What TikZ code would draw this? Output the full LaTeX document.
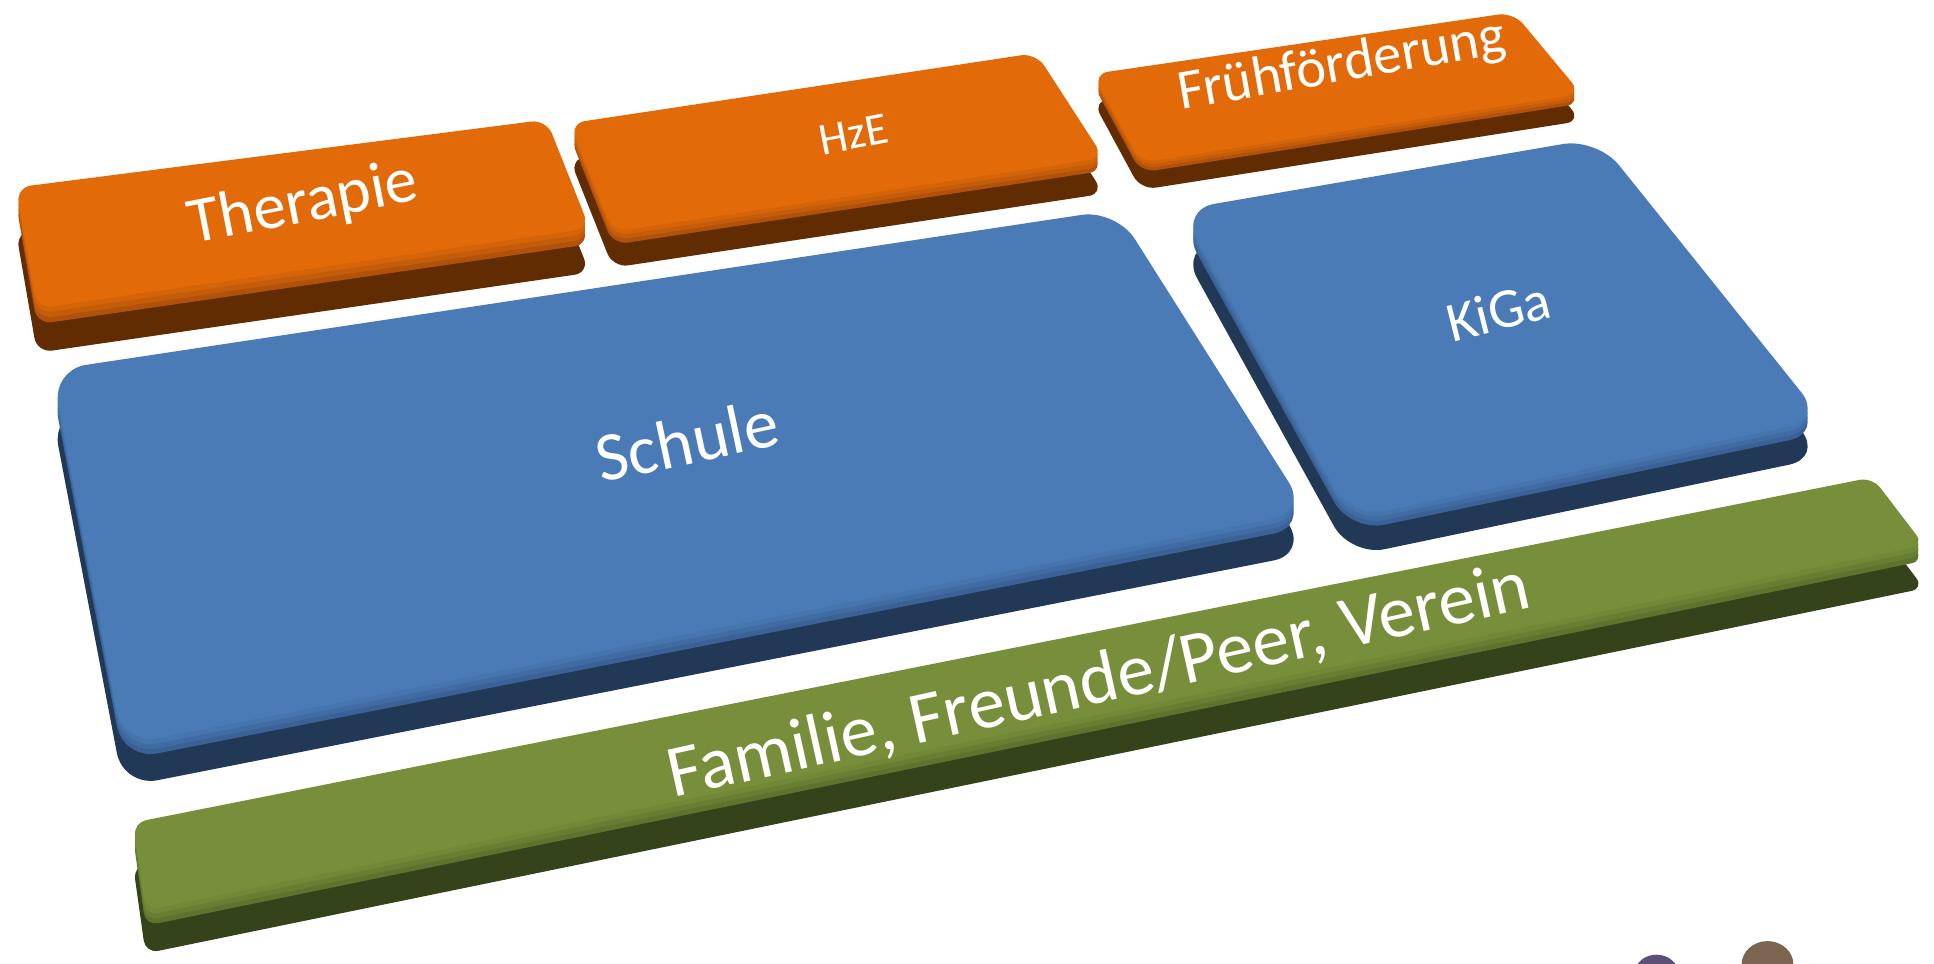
\documentclass[tikz,border=0pt]{standalone}
\usepackage{fontspec}
\setmainfont{Carlito}
\definecolor{orTop}{HTML}{E26A08}
\definecolor{orMid}{HTML}{B0520A}
\definecolor{orDark}{HTML}{622C02}
\definecolor{blTop}{HTML}{4A7BB6}
\definecolor{blMid}{HTML}{3A6296}
\definecolor{blDark}{HTML}{213857}
\definecolor{grTop}{HTML}{778F3A}
\definecolor{grMid}{HTML}{5E742E}
\definecolor{grDark}{HTML}{34431A}
\definecolor{headA}{HTML}{5C4F78}
\definecolor{headB}{HTML}{7B6450}
\tikzset{
  whitetxt/.style={text=white, inner sep=0pt},
}
\newcommand\drawslab[6]{%
  \begin{scope}[shift={(0,#2)}]\fill[#5, rounded corners=#6] #1;\end{scope}
  \begin{scope}[shift={(0,0.36*#2)}]\fill[#4, rounded corners=#6] #1;\end{scope}
  \begin{scope}[shift={(0,0.24*#2)}]\fill[#4!60!#3, rounded corners=#6] #1;\end{scope}
  \begin{scope}[shift={(0,0.12*#2)}]\fill[#4!25!#3, rounded corners=#6] #1;\end{scope}
  \fill[#3, rounded corners=#6] #1;
}
\newcommand\slablabel[5]{%
  \node[whitetxt, rotate=#3, font=\fontsize{#4}{#4}\selectfont] (#1) at #2 {#5};
}
\def\pTher{(13,152)--(443,97)--(478,185)--(30,250)--cycle}
\def\pHzE{(462,100)--(840,43)--(895,128)--(497,188)--cycle}
\def\pFrueh{(886,60)--(1227,10)--(1282,76)--(925,132)--cycle}
\def\pSchule{(42,300)--(905,170)--(1060,415)--(100,604)--cycle}
\def\pKiGa{(957,170)--(1295,112)--(1478,340)--(1095,420)--cycle}
\def\pFam{(108,667)--(1518,387)--(1560,442)--(118,738)--cycle}
\begin{document}
\begin{tikzpicture}[x={(0.02cm,0)}, y={(0,-0.02cm)}]
\useasboundingbox (0,0) rectangle (1568,781);
\fill[white] (0,0) rectangle (1568,781);
\begin{scope}
\clip (0,0) rectangle (1568,781);
\fill[headA] (1343,790) ellipse [x radius=18, y radius=16];
\fill[headB] (1433,782) ellipse [x radius=21, y radius=19];
\end{scope}
\drawslab{\pFam}{35}{grTop}{grMid}{grDark}{6pt}
\drawslab{\pSchule}{34}{blTop}{blMid}{blDark}{16pt}
\drawslab{\pKiGa}{31}{blTop}{blMid}{blDark}{16pt}
\drawslab{\pTher}{36}{orTop}{orMid}{orDark}{7pt}
\drawslab{\pHzE}{29}{orTop}{orMid}{orDark}{7pt}
\drawslab{\pFrueh}{22}{orTop}{orMid}{orDark}{7pt}
\slablabel{therapie}{(246,166)}{11}{30}{Therapie}
\slablabel{hze}{(692,109)}{11}{21}{HzE}
\slablabel{frueh}{(1088,54)}{10}{26}{Frühförderung}
\slablabel{schule}{(557,357)}{12}{32}{Schule}
\slablabel{kiga}{(1215,252)}{14}{26}{KiGa}
\slablabel{familie}{(891,553)}{12.5}{34}{Familie, Freunde/Peer, Verein}
\end{tikzpicture}
\end{document}
